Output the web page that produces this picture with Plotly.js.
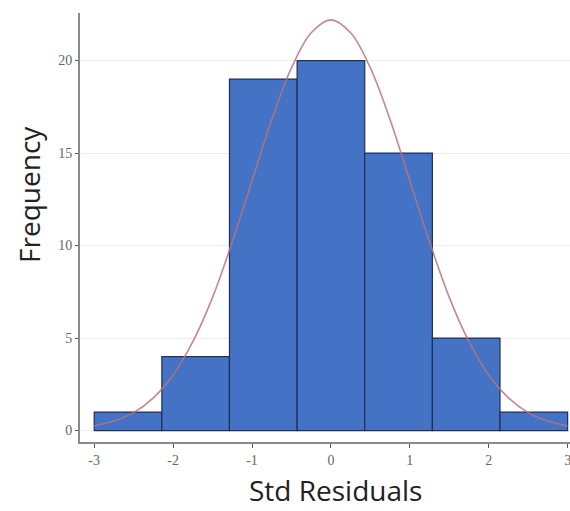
<!DOCTYPE html>
<html>
<head>
<meta charset="utf-8">
<script src="https://cdn.plot.ly/plotly-3.0.1.min.js"></script>
<style>html,body{margin:0;padding:0;background:#fff;}#chart{width:570px;height:511px;}</style>
</head>
<body>
<div id="chart"></div>
<script>
// Histogram bins (left edges) and counts
var binStarts = [-3, -2.142857, -1.285714, -0.428571, 0.428571, 1.285714, 2.142857];
var binWidth = 0.857143;
var counts = [1, 4, 19, 20, 15, 5, 1];

// Fitted normal curve
var curveX = [-3, -2.75, -2.5, -2.25, -2, -1.75, -1.5, -1.25, -1, -0.75, -0.5, -0.25, 0,
              0.25, 0.5, 0.75, 1, 1.25, 1.5, 1.75, 2, 2.25, 2.5, 2.75, 3];
var curveY = [0.25, 0.51, 0.97, 1.77, 3.0, 4.8, 7.2, 10.2, 13.5, 16.8, 19.6, 21.5, 22.2,
              21.5, 19.6, 16.8, 13.5, 10.2, 7.2, 4.8, 3.0, 1.77, 0.97, 0.51, 0.25];

var xTicks = [-3, -2, -1, 0, 1, 2, 3];
var yTicks = [0, 5, 10, 15, 20];
var xTitle = 'Std Residuals';
var yTitle = 'Frequency';

var centers = binStarts.map(function(s){ return s + binWidth / 2; });

var bars = {
  type: 'bar',
  x: centers,
  y: counts,
  width: binWidth,
  marker: {color: '#4472C4', line: {color: '#1f3057', width: 1.2}},
  hoverinfo: 'x+y'
};
var curve = {
  type: 'scatter',
  mode: 'lines',
  x: curveX,
  y: curveY,
  line: {color: 'rgba(185,115,125,0.85)', width: 1.6, shape: 'spline'},
  hoverinfo: 'skip'
};

var tickFont = {family: 'Liberation Serif, serif', size: 14, color: '#666'};
var titleFont = {family: 'Open Sans, sans-serif', size: 28, color: '#222'};

var layout = {
  width: 570, height: 511,
  margin: {l: 80, r: 0, t: 13, b: 69},
  paper_bgcolor: '#fff', plot_bgcolor: '#fff',
  showlegend: false,
  bargap: 0,
  xaxis: {
    range: [-3.18, 3.03],
    tickvals: xTicks,
    ticktext: xTicks.map(String),
    showgrid: false, zeroline: false,
    showline: true, linecolor: '#8a8a8a', linewidth: 2,
    ticks: 'outside', ticklen: 4, tickcolor: '#555', tickwidth: 1,
    tickfont: tickFont,
    ticklabeloverflow: 'allow'
  },
  yaxis: {
    range: [-0.62, 22.57],
    tickvals: yTicks,
    ticktext: yTicks.map(String),
    showgrid: true, gridcolor: '#eeeeee', gridwidth: 1,
    zeroline: false,
    showline: true, linecolor: '#8a8a8a', linewidth: 2,
    ticks: 'outside', ticklen: 3, tickcolor: '#555', tickwidth: 1,
    tickfont: tickFont
  },
  annotations: [
    {text: xTitle, xref: 'paper', yref: 'paper', x: 0.522, y: -0.112,
     xanchor: 'center', yanchor: 'middle', showarrow: false, font: titleFont},
    {text: yTitle, xref: 'paper', yref: 'paper', x: -0.104, y: 0.576,
     xanchor: 'center', yanchor: 'middle', textangle: -90, showarrow: false, font: titleFont}
  ]
};

Plotly.newPlot('chart', [bars, curve], layout, {displayModeBar: false, staticPlot: true});
</script>
</body>
</html>
